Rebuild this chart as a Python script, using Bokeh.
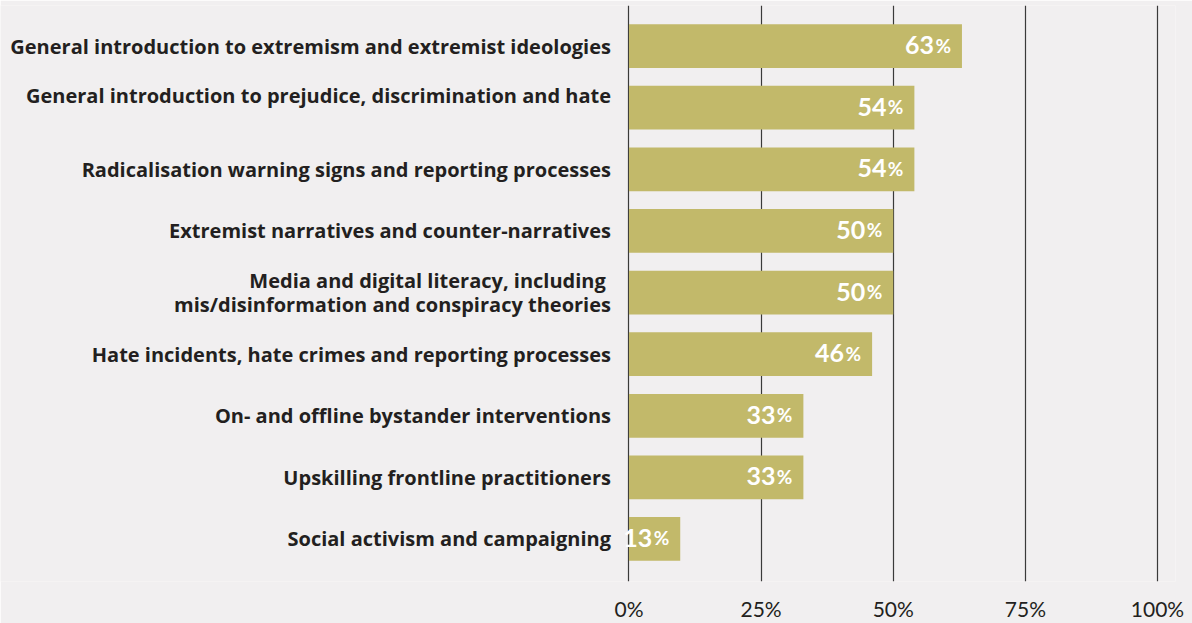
from bokeh.plotting import figure
from bokeh.models import ColumnDataSource, Range1d, FixedTicker, CustomJSTickFormatter
from bokeh.core.properties import value
from bokeh.embed import file_html
from bokeh.resources import INLINE

# ---- data ----
categories = [
    "General introduction to extremism and extremist ideologies",
    "General introduction to prejudice, discrimination and hate\n",
    "Radicalisation warning signs and reporting processes",
    "Extremist narratives and counter-narratives",
    "Media and digital literacy, including \nmis/disinformation and conspiracy theories",
    "Hate incidents, hate crimes and reporting processes",
    "On- and offline bystander interventions",
    "Upskilling frontline practitioners",
    "Social activism and campaigning",
]
bar_values = [63, 54, 54, 50, 50, 46, 33, 33, 9.7]
value_labels = ["63", "54", "54", "50", "50", "46", "33", "33", "13"]
x_ticks = [0, 25, 50, 75, 100]

BG = "#f1eff0"
BAR = "#c2b96a"
INK = "#231f20"
FONT = "Lato"
CAT_FONT = "Open Sans"
LINE_PX = 24

idx = list(range(len(categories)))
src = ColumnDataSource(dict(
    y=idx, v=bar_values, num=value_labels, pct=["%"] * len(idx),
))

# split multi-line category labels into separate text lines
ly, lt, loff = [], [], []
for i, c in enumerate(categories):
    lines = c.split("\n")
    n = len(lines)
    for k, t in enumerate(lines):
        ly.append(i)
        lt.append(t)
        loff.append((k - (n - 1) / 2) * LINE_PX)
lab_src = ColumnDataSource(dict(y=ly, text=lt, off=loff, zero=[0] * len(ly)))

p = figure(
    width=1192, height=623,
    x_range=Range1d(-118.9, 103.4),
    y_range=Range1d(8.69, -0.659),
    output_backend="svg", toolbar_location=None,
    min_border_left=0, min_border_right=17, min_border_top=5, min_border_bottom=40,
    background_fill_color=BG, border_fill_color=BG, outline_line_color=None,
)

p.hbar(y="y", left=0, right="v", height=0.71, source=src, fill_color=BAR, line_color=None)

# value labels (number + smaller percent sign)
p.text(x="v", y="y", text="num", source=src, x_offset=-28, y_offset=-1,
       text_align="right", text_baseline="alphabetic",
       text_font=value(FONT), text_font_style="bold", text_font_size="25px", text_color="white")
p.text(x="v", y="y", text="pct", source=src, x_offset=-11, y_offset=-1,
       text_align="right", text_baseline="alphabetic",
       text_font=value(FONT), text_font_style="bold", text_font_size="19px", text_color="white")

# category labels
p.text(x="zero", y="y", text="text", source=lab_src, x_offset=-18, y_offset="off",
       text_align="right", text_baseline="middle",
       text_font=value(CAT_FONT), text_font_style="bold", text_font_size="20px",
       text_color=INK)

# axes / grid
p.yaxis.visible = False
p.ygrid.visible = False
p.xaxis.ticker = FixedTicker(ticks=x_ticks)
p.xaxis.formatter = CustomJSTickFormatter(code="return tick + '%';")
p.xaxis.axis_line_color = None
p.xaxis.major_tick_line_color = None
p.xaxis.minor_tick_line_color = None
p.xaxis.major_tick_out = 0
p.xaxis.major_tick_in = 0
p.xaxis.minor_tick_out = 0
p.xaxis.minor_tick_in = 0
p.xaxis.major_label_text_font = FONT
p.xaxis.major_label_text_font_size = "21px"
p.xaxis.major_label_text_color = INK
p.xaxis.major_label_standoff = 14
p.xgrid.ticker = FixedTicker(ticks=x_ticks)
p.xgrid.grid_line_color = "#3a3a3a"
p.xgrid.grid_line_width = 1.2

html = file_html(p, INLINE)
html = html.replace("<body>", '<body style="background:%s">' % BG, 1)
open("out.html", "w").write(html)
